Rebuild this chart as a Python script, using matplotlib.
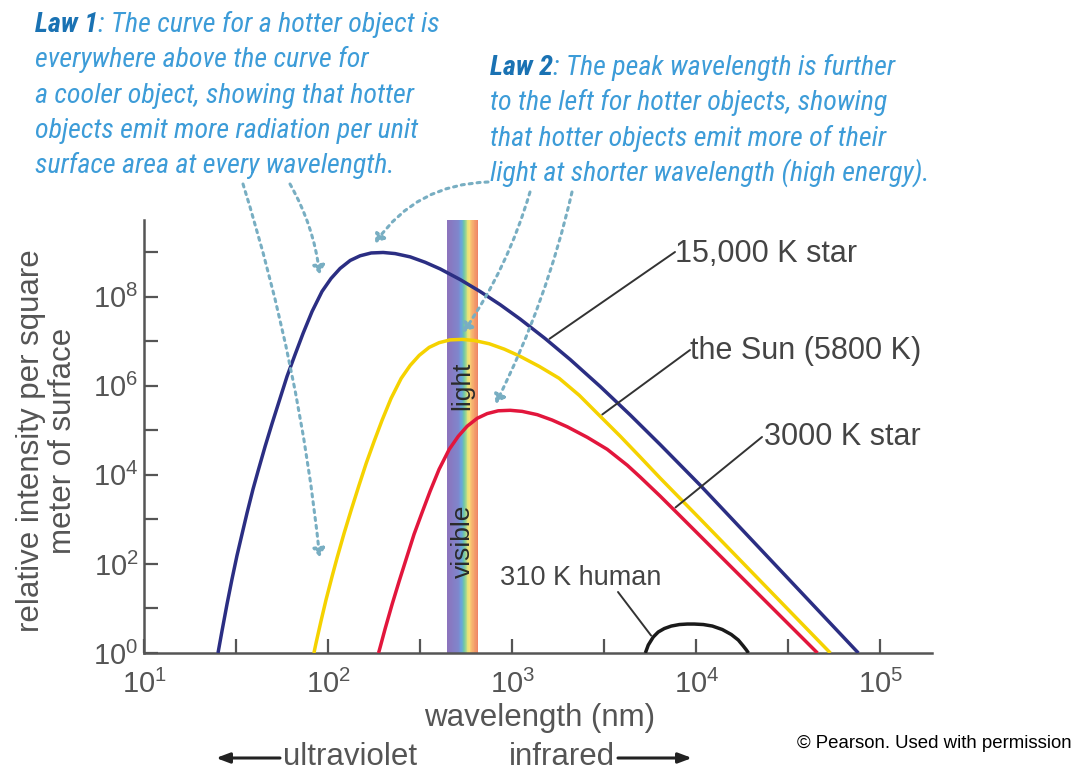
import numpy as np
import matplotlib
matplotlib.use('Agg')
import matplotlib.pyplot as plt
from matplotlib import font_manager
from matplotlib.colors import LinearSegmentedColormap

# Curves: log10(wavelength / nm) and log10(relative intensity)
star15000_logwl = [1.402, 1.424, 1.451, 1.478, 1.505, 1.533, 1.560, 1.592, 1.620, 1.658,
                   1.696, 1.739, 1.777, 1.821, 1.864, 1.913, 1.967, 2.016, 2.065, 2.120,
                   2.174, 2.234, 2.299, 2.364, 2.446, 2.527, 2.609, 2.717, 2.826, 2.935,
                   3.043, 3.179, 3.315, 3.478, 3.641, 3.804, 4.022, 4.880]
star15000_logI = [0.0, 0.502, 1.099, 1.659, 2.186, 2.679, 3.150, 3.677, 4.092, 4.641,
                  5.157, 5.717, 6.211, 6.704, 7.175, 7.668, 8.117, 8.408, 8.632, 8.812,
                  8.917, 8.980, 8.991, 8.966, 8.892, 8.771, 8.621, 8.383, 8.114, 7.818,
                  7.496, 7.058, 6.587, 5.982, 5.343, 4.677, 3.762, 0.0]

sun_logwl = [1.923, 1.935, 1.962, 1.989, 2.022, 2.049, 2.087, 2.125, 2.168, 2.207,
             2.250, 2.293, 2.342, 2.397, 2.446, 2.495, 2.549, 2.603, 2.663, 2.728,
             2.793, 2.875, 2.957, 3.038, 3.147, 3.255, 3.364, 3.478, 3.587, 3.696,
             3.804, 4.022, 4.728]
sun_logI = [0.0, 0.235, 0.729, 1.200, 1.726, 2.141, 2.691, 3.206, 3.767, 4.260,
            4.753, 5.224, 5.717, 6.166, 6.457, 6.682, 6.861, 6.966, 7.029, 7.040,
            7.016, 6.942, 6.821, 6.670, 6.433, 6.166, 5.785, 5.314, 4.865, 4.395,
            3.924, 3.004, 0.0]

star3000_logwl = [2.274, 2.283, 2.310, 2.348, 2.386, 2.429, 2.467, 2.511, 2.554, 2.603,
                  2.658, 2.707, 2.755, 2.810, 2.864, 2.924, 2.989, 3.054, 3.136, 3.217,
                  3.299, 3.408, 3.516, 3.625, 3.696, 3.804, 3.913, 4.658]
star3000_logI = [0.0, 0.135, 0.549, 1.099, 1.614, 2.175, 2.668, 3.161, 3.632, 4.126,
                 4.574, 4.865, 5.090, 5.269, 5.374, 5.437, 5.448, 5.424, 5.350, 5.229,
                 5.078, 4.841, 4.572, 4.215, 3.946, 3.520, 3.072, 0.0]

human_logwl = [3.723, 3.739, 3.766, 3.793, 3.826, 3.864, 3.908, 3.951, 3.989, 4.038,
               4.087, 4.141, 4.190, 4.228, 4.255, 4.272, 4.283]
human_logI = [0.0, 0.179, 0.359, 0.471, 0.549, 0.605, 0.639, 0.650, 0.650, 0.639,
              0.605, 0.527, 0.415, 0.291, 0.157, 0.067, 0.0]

visible_nm = [444, 653]

curve_labels = ["15,000 K star", "the Sun (5800 K)", "3000 K star", "310 K human"]
# wavelength (nm) where each leader line touches its curve
label_anchor_nm = [1550, 3000, 7500, 5800]

law1_lines = [": The curve for a hotter object is",
              "everywhere above the curve for",
              "a cooler object, showing that hotter",
              "objects emit more radiation per unit",
              "surface area at every wavelength."]
law2_lines = [": The peak wavelength is further",
              "to the left for hotter objects, showing",
              "that hotter objects emit more of their",
              "light at shorter wavelength (high energy)."]

W, H = 1081, 774


def px(x, y):
    # pixel position (top-left origin) -> figure fraction
    return (x / W, 1 - y / H)


names = {f.name for f in font_manager.fontManager.ttflist}
law_font, law_size = 'Liberation Sans', 18.5
for cand in ['Liberation Sans Narrow', 'Roboto Condensed', 'Open Sans Condensed',
             'Noto Sans Condensed']:
    if cand in names:
        law_font, law_size = cand, 20.2
        break

plt.rcParams['font.family'] = ['Liberation Sans', 'DejaVu Sans']
plt.rcParams['mathtext.default'] = 'regular'

grey = '#555555'
text_grey = '#444444'
law_blue = '#3d9cd8'
law_dark = '#1a72b3'
dot_col = '#78aec2'

fig = plt.figure(figsize=(W / 100, H / 100), dpi=100)
ax = fig.add_axes([144 / W, 1 - 653 / H, (932 - 144) / W, (653 - 220) / H])
ax.set_xscale('log')
ax.set_yscale('log')
ax.set_xlim(10, 10 ** 5.28)
ax.set_ylim(1, 10 ** 9.72)

# visible light rainbow band
rainbow = LinearSegmentedColormap.from_list('vis', [
    (0.0, '#8c74bd'), (0.35, '#7f86cc'), (0.45, '#6aa2de'), (0.55, '#6cc5a8'),
    (0.65, '#d9e47a'), (0.72, '#f8df78'), (0.82, '#f6b06e'), (1.0, '#ef8566')])
edges = np.logspace(np.log10(visible_nm[0]), np.log10(visible_nm[1]), 41)
for i in range(40):
    ax.axvspan(edges[i], edges[i + 1], color=rainbow(i / 39), lw=0, zorder=1)
vis_mid = np.sqrt(visible_nm[0] * visible_nm[1])
ax.text(vis_mid, 10 ** 6.0, "light", rotation=90, ha='center', va='center',
        fontsize=19, color='#2a2a2a', zorder=2)
ax.text(vis_mid, 10 ** 2.5, "visible", rotation=90, ha='center', va='center',
        fontsize=19, color='#2a2a2a', zorder=2)

curves = [(star15000_logwl, star15000_logI, '#2b2e83'),
          (sun_logwl, sun_logI, '#f5d200'),
          (star3000_logwl, star3000_logI, '#e2163c'),
          (human_logwl, human_logI, '#1a1a1a')]
for lw_, li_, col in curves:
    ax.plot(10 ** np.array(lw_), 10 ** np.array(li_), color=col, lw=2.5,
            solid_capstyle='butt', solid_joinstyle='round', zorder=3)

# axes styling
for s in ['top', 'right']:
    ax.spines[s].set_visible(False)
for s in ['left', 'bottom']:
    ax.spines[s].set_color(grey)
    ax.spines[s].set_linewidth(1.8)

ax.xaxis.set_major_locator(matplotlib.ticker.FixedLocator(10 ** np.arange(1, 5.01, 0.5)))
ax.yaxis.set_major_locator(matplotlib.ticker.FixedLocator(10.0 ** np.arange(0, 10)))
ax.xaxis.set_minor_locator(matplotlib.ticker.NullLocator())
ax.yaxis.set_minor_locator(matplotlib.ticker.NullLocator())


def xfmt(v, pos):
    e = np.log10(v)
    return r'$10^{%d}$' % round(e) if abs(e - round(e)) < 1e-6 else ''


def yfmt(v, pos):
    e = int(round(np.log10(v)))
    return r'$10^{%d}$' % e if e % 2 == 0 else ''


ax.xaxis.set_major_formatter(matplotlib.ticker.FuncFormatter(xfmt))
ax.yaxis.set_major_formatter(matplotlib.ticker.FuncFormatter(yfmt))
ax.tick_params(direction='in', length=10, width=1.6, color=grey, labelcolor=grey,
               labelsize=21)
ax.tick_params(axis='x', pad=12)
ax.tick_params(axis='y', pad=4)

fig.text(*px(47, 441), "relative intensity per square\nmeter of surface", rotation=90,
         ha='center', va='center', fontsize=22.5, color=grey, linespacing=1.12)
fig.text(*px(540, 718), "wavelength (nm)", ha='center', va='center', fontsize=22.5, color=grey)
fig.text(*px(283, 757), "ultraviolet", ha='left', va='center', fontsize=22.5, color=grey)
fig.text(*px(615, 757), "infrared", ha='right', va='center', fontsize=22.5, color=grey)
ax.annotate('', xy=px(216, 758), xytext=px(280, 758), xycoords='figure fraction',
            arrowprops=dict(arrowstyle='-|>,head_length=0.8,head_width=0.3', color='#222222', lw=2.2,
                            shrinkA=0, shrinkB=0))
ax.annotate('', xy=px(692, 758), xytext=px(618, 758), xycoords='figure fraction',
            arrowprops=dict(arrowstyle='-|>,head_length=0.8,head_width=0.3', color='#222222', lw=2.2,
                            shrinkA=0, shrinkB=0))
fig.text(*px(1072, 743), "\u00a9 Pearson. Used with permission", ha='right', va='center',
         fontsize=13.4, color='black')

# curve labels with leader lines
label_pos = [(675, 254), (690, 351), (764, 437), (500, 578)]
label_size = [22, 22, 22, 19.5]
label_tail = [(675, 252), (690, 350), (762, 437), (618, 592)]
curve_data = [(star15000_logwl, star15000_logI), (sun_logwl, sun_logI),
              (star3000_logwl, star3000_logI), (human_logwl, human_logI)]
for lab, nm, pos, fs, tail, (cw, ci) in zip(curve_labels, label_anchor_nm, label_pos,
                                            label_size, label_tail, curve_data):
    yv = 10 ** np.interp(np.log10(nm), cw, ci)
    fig.text(*px(*pos), lab, ha='left', va='center', fontsize=fs, color=text_grey)
    ax.annotate('', xy=(nm, yv), xycoords='data', xytext=px(*tail), textcoords='figure fraction',
                arrowprops=dict(arrowstyle='-', color='#333333', lw=1.4, shrinkA=0, shrinkB=2))

# Law texts
law_baselines1 = [32, 67, 103, 138, 173]
law_baselines2 = [75, 110, 146, 181]
for title, lines, x0, bases in [("Law 1", law1_lines, 35, law_baselines1),
                                ("Law 2", law2_lines, 490, law_baselines2)]:
    t = fig.text(*px(x0, bases[0]), title, ha='left', va='baseline', fontsize=law_size,
                 family=law_font, style='italic', weight='bold', color=law_dark)
    ax.annotate(lines[0], xy=(1, 0), xycoords=t, ha='left', va='bottom',
                fontsize=law_size, family=law_font, style='italic', color=law_blue,
                annotation_clip=False)
    for ln, b in zip(lines[1:], bases[1:]):
        fig.text(*px(x0, b), ln, ha='left', va='baseline', fontsize=law_size,
                 family=law_font, style='italic', color=law_blue)

# dotted pointer arrows from the law texts
arrow_tips = [(90, 10 ** 2.15), (90, 10 ** 8.5), (180, 10 ** 9.2), (542, 10 ** 7.2), (813, 10 ** 5.6)]
arrow_tails = [(243, 184), (290, 184), (488, 182), (530, 192), (572, 192)]
arrow_rads = [-0.05, -0.1, 0.25, -0.08, -0.06]
for tip, tail, rad in zip(arrow_tips, arrow_tails, arrow_rads):
    ax.annotate('', xy=tip, xycoords='data', xytext=px(*tail), textcoords='figure fraction',
                arrowprops=dict(arrowstyle='-|>,head_length=0.5,head_width=0.35',
                                color=dot_col, lw=2.2, linestyle=(0, (1, 1.6)),
                                connectionstyle='arc3,rad=%g' % rad, shrinkA=0, shrinkB=0),
                zorder=4, annotation_clip=False)

fig.savefig('out.png', dpi=100)
